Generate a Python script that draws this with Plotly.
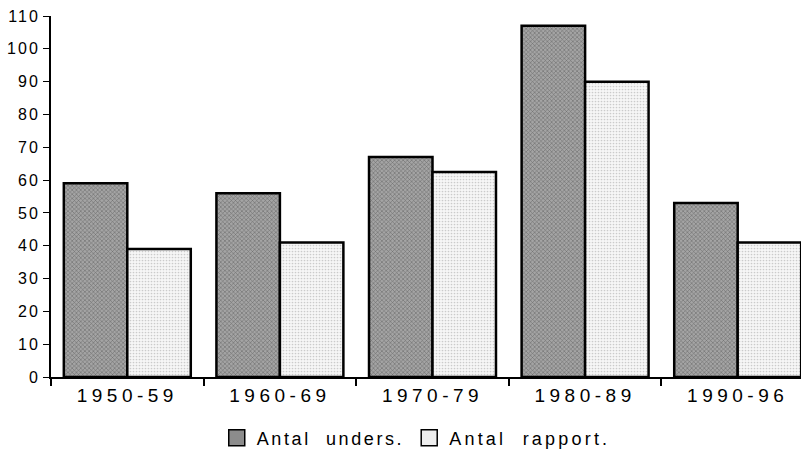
import plotly.graph_objects as go

categories = ["1950-59", "1960-69", "1970-79", "1980-89", "1990-96"]
antal_unders = [59, 56, 67, 107, 53]
antal_rapport = [39, 41, 62.5, 90, 41]
y_ticks = list(range(0, 111, 10))
series_names = ["Antal\u00a0\u00a0unders.", "Antal\u00a0\u00a0rapport."]

def spaced(s, px):
    return f'<span style="letter-spacing:{px}px">{s}</span>'

fig = go.Figure()
fig.add_trace(go.Bar(
    x=categories, y=antal_unders, name=series_names[0], showlegend=False,
    marker=dict(color="#9a9a9a", line=dict(color="black", width=2.5),
                pattern=dict(shape="x", fgcolor="#333333", bgcolor="#a4a4a4", size=3, solidity=0.35)),
))
fig.add_trace(go.Bar(
    x=categories, y=antal_rapport, name=series_names[1], showlegend=False,
    marker=dict(color="#ececec", line=dict(color="black", width=2.5),
                pattern=dict(shape=".", fgcolor="#a0a0a0", bgcolor="#f6f6f6", size=3, solidity=0.25)),
))
# legend-only swatches
fig.add_trace(go.Scatter(x=[None], y=[None], mode="markers", name=spaced(series_names[0], 2.6),
                         marker=dict(symbol="square", size=18, color="#8c8c8c", line=dict(color="black", width=1.5))))
fig.add_trace(go.Scatter(x=[None], y=[None], mode="markers", name=spaced(series_names[1], 3.2),
                         marker=dict(symbol="square", size=18, color="#eeeeee", line=dict(color="black", width=1.5))))

fig.update_layout(
    width=801, height=459,
    margin=dict(l=51, r=0, t=16, b=82, autoexpand=False),
    paper_bgcolor="white", plot_bgcolor="white",
    barmode="group", bargap=0.168, bargroupgap=0,
    font=dict(family="Liberation Sans, Arial, sans-serif", color="black"),
    showlegend=True,
    legend=dict(orientation="h", x=0.487, xanchor="center", y=-0.169, yanchor="middle",
                font=dict(size=18), itemwidth=30, traceorder="normal", itemsizing="trace"),
    xaxis=dict(
        type="category", range=[-0.5, -0.5 + 750 / 152.6], automargin=False,
        showline=True, linecolor="black", linewidth=2,
        ticks="outside", tickson="boundaries", ticklen=7, tickcolor="black", tickwidth=1.5,
        tickmode="array", tickvals=categories, ticktext=[spaced(c, 4.5) for c in categories],
        tickfont=dict(size=19), showgrid=False, zeroline=False, ticklabeloverflow="allow",
    ),
    yaxis=dict(
        range=[0, 110], automargin=False, showline=True, linecolor="black", linewidth=2,
        ticks="outside", ticklen=6, tickcolor="black", tickwidth=1,
        tickmode="array", tickvals=y_ticks, ticktext=[spaced(str(v), 2) for v in y_ticks],
        tickfont=dict(size=16), showgrid=False, zeroline=False, ticklabeloverflow="allow",
    ),
)

fig.write_html("out.html", config={"displayModeBar": False},
               post_script="document.body.style.margin='0';")
